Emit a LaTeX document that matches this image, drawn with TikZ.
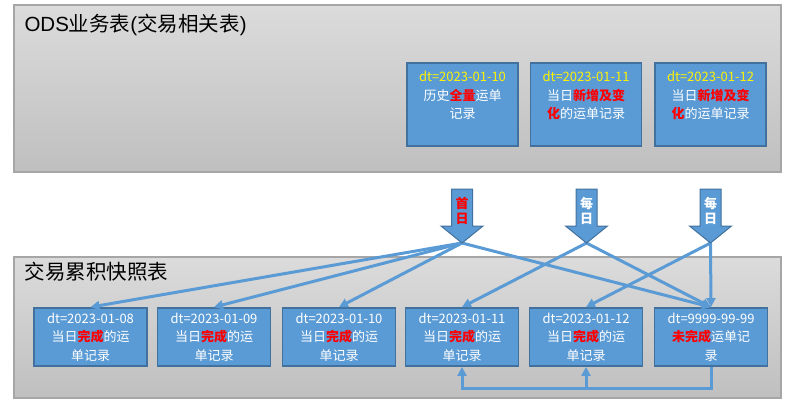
\documentclass[tikz,border=0pt]{standalone}
\usepackage{fontspec}
\setmainfont{Noto Sans CJK SC}
\newfontfamily\latinfont{Liberation Sans}
\usetikzlibrary{arrows.meta}
\definecolor{boxblue}{HTML}{5B9BD5}
\definecolor{boxedge}{HTML}{41719C}
\definecolor{panelgray}{HTML}{A6A6A6}
\newcommand{\hl}[1]{\textcolor{red}{\bfseries #1}}
\newcommand{\dtday}[1]{\textcolor{yellow}{dt=#1}}

\begin{document}
\begin{tikzpicture}[x=1pt,y=-1pt,
  panel/.style={draw=panelgray,line width=2pt,top color=gray!28,bottom color=gray!50,
    minimum width=767pt},
  title/.style={anchor=west,font=\fontsize{20.5}{24}\selectfont},
  odsbox/.style={draw=boxedge,line width=1.8pt,fill=boxblue,text=white,
    minimum width=111pt,minimum height=83pt,inner sep=1pt,align=center,
    font=\fontsize{13}{18.5}\selectfont},
  snapbox/.style={odsbox,minimum width=113pt,minimum height=58pt},
  flow/.style={boxblue,line width=3pt,-{Triangle[length=9pt,width=9pt]}},
]
  \useasboundingbox (0,0) rectangle (795,407);

  % the two tables
  \node[panel,minimum height=167pt] (ods) at (397.5,88.5) {};
  \node[panel,minimum height=141pt] (snap) at (397.5,327.5) {};
  \node[title] (odstitle) at (21,25)
    {{\latinfont ODS}业务表{\latinfont (}交易相关表{\latinfont )}};
  \node[title] (snaptitle) at (21,272) {交易累积快照表};

  % daily partitions of the ODS table
  \node[odsbox] (t1) at (462.5,104.5) {\dtday{2023-01-10}\\历史\hl{全量}运单\\记录\\~};
  \node[odsbox] (t2) at (586,104.5) {\dtday{2023-01-11}\\当日\hl{新增及变}\\\hl{化}的运单记录\\~};
  \node[odsbox] (t3) at (710.5,104.5) {\dtday{2023-01-12}\\当日\hl{新增及变}\\\hl{化}的运单记录\\~};

  % partitions of the snapshot table
  \node[snapbox] (b1) at (90.5,337) {dt=2023-01-08\\当日\hl{完成}的运\\单记录};
  \node[snapbox] (b2) at (214,337) {dt=2023-01-09\\当日\hl{完成}的运\\单记录};
  \node[snapbox] (b3) at (339,337) {dt=2023-01-10\\当日\hl{完成}的运\\单记录};
  \node[snapbox] (b4) at (462,337) {dt=2023-01-11\\当日\hl{完成}的运\\单记录};
  \node[snapbox] (b5) at (586,337) {dt=2023-01-12\\当日\hl{完成}的运\\单记录};
  \node[snapbox] (b6) at (711,337) {dt=9999-99-99\\\hl{未完成}运单记\\录};

  \foreach \ax/\aname in {462/a1, 586.5/a2, 710.5/a3}
    \coordinate (\aname) at (\ax,243);

  % loading flows
  \foreach \b in {b1,b2,b3,b6}
    \draw[flow] (a1) -- (\b.north);
  \draw[flow] (a2) -- (b4.north);
  \draw[flow] (a2) -- (b6.north);
  \draw[flow] (a3) -- (b5.north);
  \draw[flow] (a3) -- (b6.north);

  % block arrows
  \foreach \ax/\aname/\achar/\acol in {462/a1/首/red, 586.5/a2/每/white, 710.5/a3/每/white}{
    \filldraw[fill=boxblue,draw=boxedge,line width=1pt]
      ({\ax-10.5},189) -- ({\ax+10.5},189) -- ({\ax+10.5},226) -- ({\ax+21},226)
      -- (\aname) -- ({\ax-21},226) -- ({\ax-10.5},226) -- cycle;
    \node[text=\acol,align=center,font=\fontsize{13}{15}\selectfont\bfseries]
      (\aname txt) at (\ax,211) {\achar\\日};
  }

  % unfinished orders go back to their finish day
  \coordinate (back) at ([yshift=-22pt]b6.south);
  \draw[flow] (b6.south) -- (back) -| (b4.south);
  \draw[flow] (back -| b5.south) -- (b5.south);
\end{tikzpicture}
\end{document}
